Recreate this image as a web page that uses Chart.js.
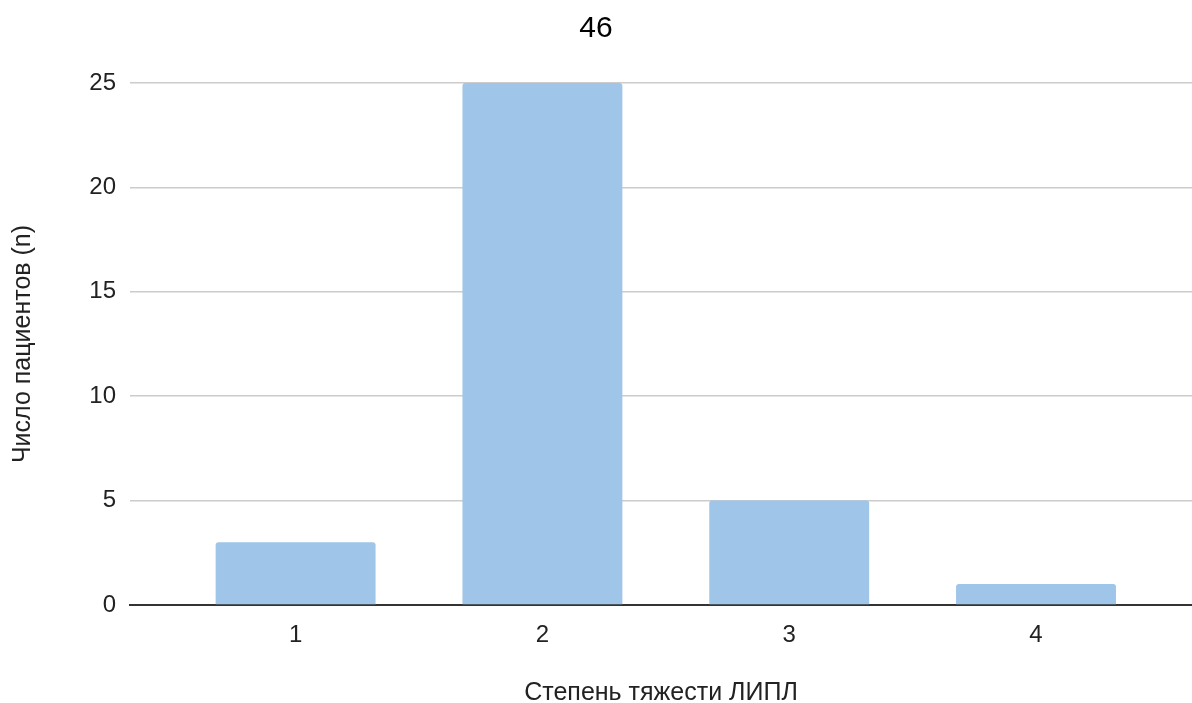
<!DOCTYPE html>
<html>
<head>
<meta charset="utf-8">
<style>
  html, body { margin: 0; padding: 0; background: #ffffff; }
  #wrap { width: 1192px; height: 703px; }
</style>
<script src="https://cdn.jsdelivr.net/npm/chart.js@4/dist/chart.umd.min.js"></script>
</head>
<body>
<div id="wrap"><canvas id="chart" width="1192" height="703"></canvas></div>
<script>
// Severity grade (x) and number of patients per grade (y)
const categories = ['1', '2', '3', '4'];
const patients = [3, 25, 5, 1];
const yTicks = [0, 5, 10, 15, 20, 25];

const chartTitle = '46';
const xTitle = 'Степень тяжести ЛИПЛ';
const yTitle = 'Число пациентов (n)';

const FONT = "Arial, 'Liberation Sans', sans-serif";

const points = categories.map((c, i) => ({ x: Number(c), y: patients[i] }));

new Chart(document.getElementById('chart'), {
  type: 'bar',
  data: {
    datasets: [{
      data: points,
      backgroundColor: '#9fc5e8',
      borderWidth: 0,
      borderRadius: { topLeft: 3, topRight: 3, bottomLeft: 0, bottomRight: 0 },
      borderSkipped: 'start',
      barPercentage: 0.648,
      categoryPercentage: 1.0
    }]
  },
  options: {
    responsive: false,
    animation: false,
    devicePixelRatio: 1,
    layout: { padding: { left: 0, right: 0, top: 0, bottom: 0 } },
    plugins: {
      legend: { display: false },
      tooltip: { enabled: false },
      title: {
        display: true,
        text: chartTitle,
        color: '#000000',
        font: { family: FONT, size: 30, weight: 'normal', lineHeight: 1.2 },
        padding: { top: 11, bottom: 36 }
      }
    },
    scales: {
      x: {
        type: 'linear',
        min: 0.329,
        max: 4.632,
        offset: false,
        z: 1,
        grid: { display: false, drawTicks: false, offset: false },
        border: { display: true, color: '#333333', width: 2 },
        afterBuildTicks: (scale) => {
          scale.ticks = categories.map(c => ({ value: Number(c) }));
        },
        ticks: {
          padding: 16,
          color: '#222222',
          font: { family: FONT, size: 24 },
          maxRotation: 0,
          callback: (v) => {
            const idx = categories.indexOf(String(v));
            return idx >= 0 ? categories[idx] : '';
          }
        },
        title: {
          display: true,
          text: xTitle,
          color: '#222222',
          font: { family: FONT, size: 25, lineHeight: 1.0 },
          padding: { top: 0, bottom: -3 }
        },
        afterFit: (scale) => { scale.height = 98; }
      },
      y: {
        min: 0,
        max: 25,
        grid: {
          color: '#cccccc',
          lineWidth: 1.5,
          drawTicks: false
        },
        border: { display: false },
        afterBuildTicks: (scale) => {
          scale.ticks = yTicks.map(v => ({ value: v }));
        },
        ticks: {
          padding: 14,
          color: '#222222',
          font: { family: FONT, size: 24 }
        },
        title: {
          display: true,
          text: yTitle,
          color: '#222222',
          font: { family: FONT, size: 25, lineHeight: 1.2 },
          padding: { top: 8, bottom: 0 }
        },
        afterFit: (scale) => { scale.width = 130; }
      }
    }
  }
});
</script>
</body>
</html>
